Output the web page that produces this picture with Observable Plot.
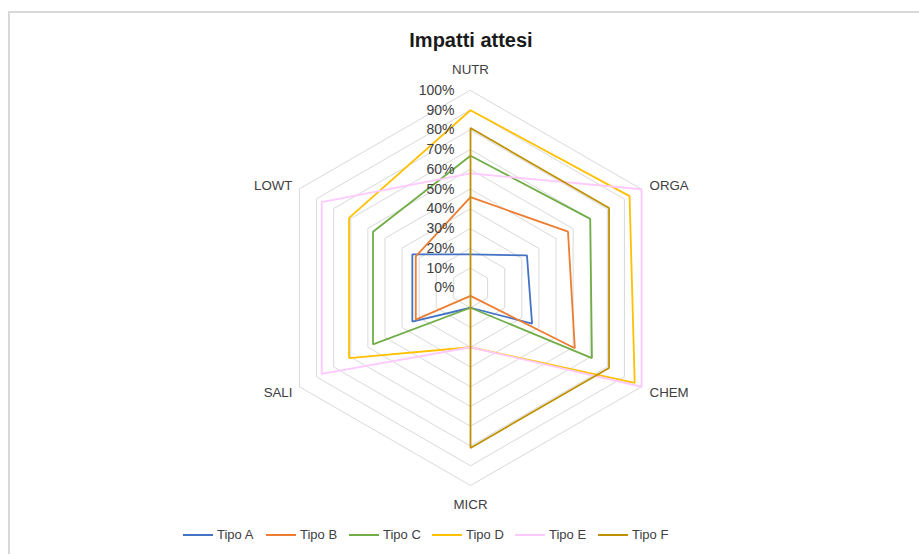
<!DOCTYPE html>
<html>
<head>
<meta charset="utf-8">
<script src="https://cdn.jsdelivr.net/npm/d3@7"></script>
<script src="https://cdn.jsdelivr.net/npm/@observablehq/plot@0.6"></script>
<style>
  html, body { margin: 0; padding: 0; background: #fff; }
  #wrap { position: relative; width: 919px; height: 554px; overflow: hidden; font-family: "Liberation Sans", Arial, sans-serif; }
  #frame { position: absolute; left: 8px; top: 11px; width: 940px; height: 600px; border-left: 2px solid #d9d9d9; border-top: 2px solid #d9d9d9; box-sizing: border-box; }
  #title { position: absolute; left: 0; width: 942px; top: 28px; text-align: center; font-weight: bold; font-size: 20px; color: #1a1a1a; line-height: 24px; }
  #chart { position: absolute; left: 0; top: 0; }
  #legend { position: absolute; left: 183px; top: 527px; display: flex; font-size: 13px; color: #404040; line-height: 16px; }
  .item { width: 83px; display: flex; align-items: center; }
  .sw { width: 30px; height: 2px; margin-right: 4px; }
</style>
</head>
<body>
<div id="wrap">
  <div id="frame"></div>
  <div id="chart"></div>
  <div id="title">Impatti attesi</div>
  <div id="legend"></div>
</div>
<script>
const categories = ["NUTR", "ORGA", "CHEM", "MICR", "SALI", "LOWT"];
const seriesNames = ["Tipo A", "Tipo B", "Tipo C", "Tipo D", "Tipo E", "Tipo F"];
const seriesColors = ["#4472C4", "#ED7D31", "#70AD47", "#FFC000", "#FFC9FF", "#BF9000"];
const tipoA = [0.17, 0.33, 0.36, 0.10, 0.34, 0.34];
const tipoB = [0.46, 0.57, 0.61, 0.04, 0.32, 0.32];
const tipoC = [0.67, 0.70, 0.71, 0.10, 0.57, 0.57];
const tipoD = [0.90, 0.93, 0.96, 0.30, 0.71, 0.71];
const tipoE = [0.58, 1.00, 1.00, 0.30, 0.87, 0.87];
const tipoF = [0.81, 0.81, 0.81, 0.81, 0.00, 0.00];
const tickValues = [0, 0.1, 0.2, 0.3, 0.4, 0.5, 0.6, 0.7, 0.8, 0.9, 1.0];
const tickLabels = ["0%", "10%", "20%", "30%", "40%", "50%", "60%", "70%", "80%", "90%", "100%"];

const seriesValues = [tipoA, tipoB, tipoC, tipoD, tipoE, tipoF];

// geometry helpers: angle of category i (clockwise from top)
const ang = i => Math.PI / 2 - i * Math.PI / 3;
const px = (i, r) => r * Math.cos(ang(i));
const py = (i, r) => r * Math.sin(ang(i));

const rows = [];
seriesNames.forEach((s, si) => {
  categories.forEach((c, ci) => {
    const v = seriesValues[si][ci];
    rows.push({series: s, cat: c, x: px(ci, v), y: py(ci, v)});
  });
});

const gridRows = [];
tickValues.filter(t => t > 0).forEach(t => {
  categories.forEach((c, ci) => gridRows.push({level: t, x: px(ci, t), y: py(ci, t)}));
});

const labelRows = categories.map((c, ci) => ({cat: c, x: px(ci, 1), y: py(ci, 1), i: ci}));

const W = 919, H = 554, CX = 470, CY = 287.5, R = 197.5;
const FONT = "Liberation Sans, Arial, sans-serif";
const TXT = "#404040";

const chart = Plot.plot({
  width: W,
  height: H,
  margin: 0,
  style: {background: "transparent", overflow: "visible"},
  x: {domain: [-CX / R, (W - CX) / R], range: [0, W], axis: null},
  y: {domain: [-(H - CY) / R, CY / R], range: [H, 0], axis: null},
  color: {domain: seriesNames, range: seriesColors},
  marks: [
    Plot.line(gridRows, {x: "x", y: "y", z: "level", curve: "linear-closed", stroke: "#d9d9d9", strokeWidth: 1}),
    Plot.line(rows, {x: "x", y: "y", z: "series", stroke: "series", curve: "linear-closed", strokeWidth: 1.8, strokeLinejoin: "miter"}),
    Plot.text(tickValues, {x: 0, y: d => d, text: (d, i) => tickLabels[i], textAnchor: "end", dx: -16, fontSize: 14, fill: TXT, fontFamily: FONT}),
    Plot.text(labelRows.filter(d => d.i === 0), {x: "x", y: "y", text: "cat", dy: -21, fontSize: 13.3, fill: TXT, fontFamily: FONT}),
    Plot.text(labelRows.filter(d => d.i === 3), {x: "x", y: "y", text: "cat", dy: 19, fontSize: 13.3, fill: TXT, fontFamily: FONT}),
    Plot.text(labelRows.filter(d => d.i === 1), {x: "x", y: "y", text: "cat", dx: 8, dy: -4, textAnchor: "start", fontSize: 13.3, fill: TXT, fontFamily: FONT}),
    Plot.text(labelRows.filter(d => d.i === 2), {x: "x", y: "y", text: "cat", dx: 8, dy: 6, textAnchor: "start", fontSize: 13.3, fill: TXT, fontFamily: FONT}),
    Plot.text(labelRows.filter(d => d.i === 5), {x: "x", y: "y", text: "cat", dx: -7, dy: -4, textAnchor: "end", fontSize: 13.3, fill: TXT, fontFamily: FONT}),
    Plot.text(labelRows.filter(d => d.i === 4), {x: "x", y: "y", text: "cat", dx: -7, dy: 6, textAnchor: "end", fontSize: 13.3, fill: TXT, fontFamily: FONT})
  ]
});
document.getElementById("chart").appendChild(chart);

const legend = document.getElementById("legend");
seriesNames.forEach((s, i) => {
  const item = document.createElement("div");
  item.className = "item";
  const sw = document.createElement("div");
  sw.className = "sw";
  sw.style.background = seriesColors[i];
  const t = document.createElement("span");
  t.textContent = s;
  item.appendChild(sw);
  item.appendChild(t);
  legend.appendChild(item);
});
</script>
</body>
</html>
